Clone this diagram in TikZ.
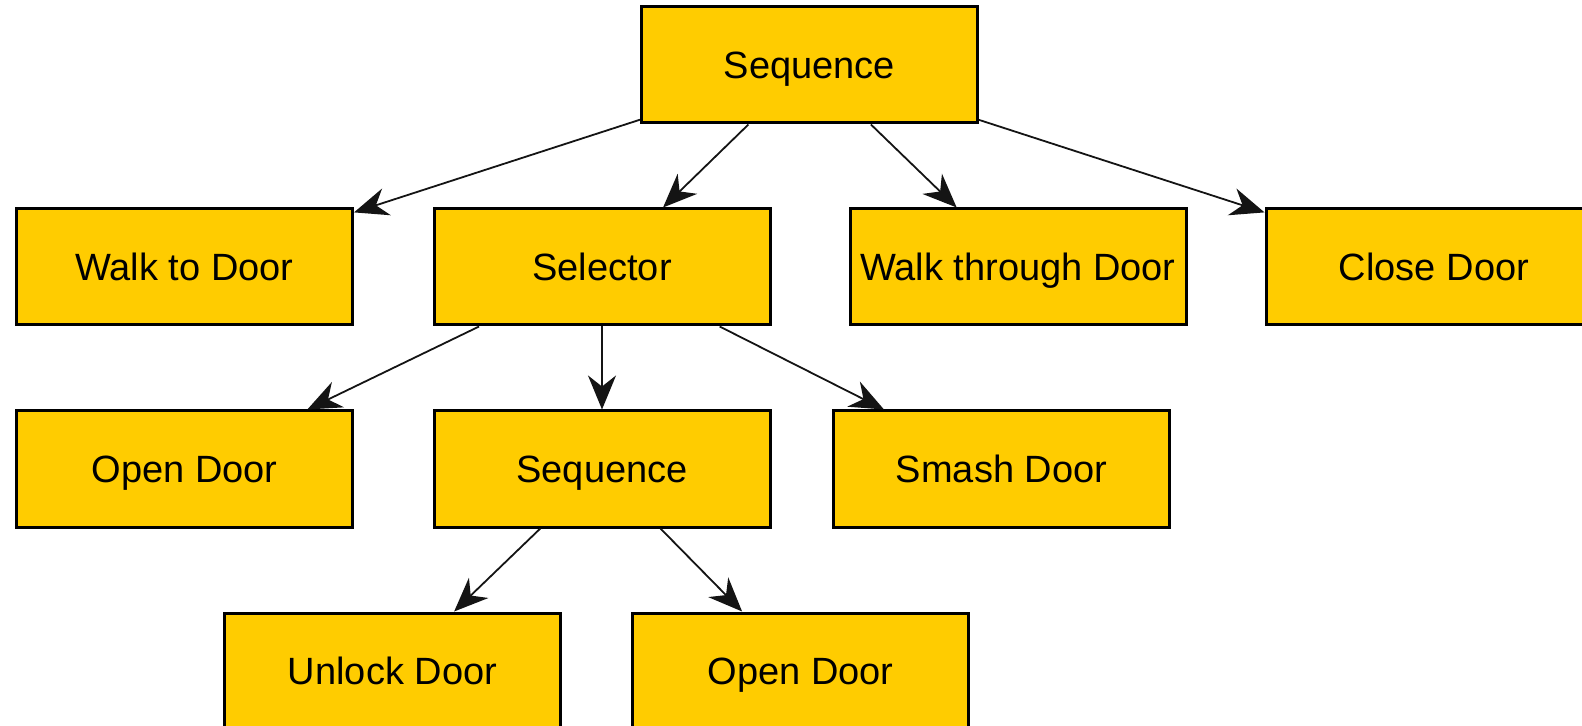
\documentclass[tikz,border=0pt]{standalone}
\usepackage{fontspec}
\setmainfont{Liberation Sans}
\usetikzlibrary{arrows.meta}
\definecolor{boxfill}{RGB}{255,204,0}
\definecolor{edgecol}{RGB}{20,20,20}
\tikzset{
  btnode/.style={draw=black, line width=1.5pt, fill=boxfill, rectangle,
    minimum width=168pt, minimum height=58pt, inner sep=0pt,
    text height=13.6pt, text depth=0pt,
    font=\fontsize{19}{23}\selectfont, text=black},
  conn/.style={draw=edgecol, line width=0.9pt,
    -{Stealth[length=17pt, width=14pt, inset=5.5pt]}}
}
\begin{document}
\begin{tikzpicture}[x=0.5pt,y=-0.5pt]
\useasboundingbox (0,0) rectangle (1582,726);
\clip (0,0) rectangle (1582,726);
% row 0
\node[btnode] (seq) at (809.5,65) {Sequence};
% row 1
\node[btnode] (walk) at (184.5,267) {Walk to Door};
\node[btnode] (sel) at (602,267) {Selector};
\node[btnode] (through) at (1018,267) {Walk through Door};
\node[btnode] (close) at (1434,267) {Close Door};
% row 2
\node[btnode] (open) at (184.5,469) {Open Door};
\node[btnode] (seq2) at (602,469) {Sequence};
\node[btnode] (smash) at (1001.5,469) {Smash Door};
% row 3
\node[btnode] (unlock) at (392.5,671) {Unlock Door};
\node[btnode] (open2) at (800.5,671) {Open Door};
% connectors
\draw[conn] (seq) -- (walk);
\draw[conn] (seq) -- (sel);
\draw[conn] (seq) -- (through);
\draw[conn] (seq) -- (close);
\draw[conn] (sel) -- (open);
\draw[conn] (sel) -- (seq2);
\draw[conn] (sel) -- (smash);
\draw[conn] (seq2) -- (unlock);
\draw[conn] (seq2) -- (open2);
\end{tikzpicture}
\end{document}
